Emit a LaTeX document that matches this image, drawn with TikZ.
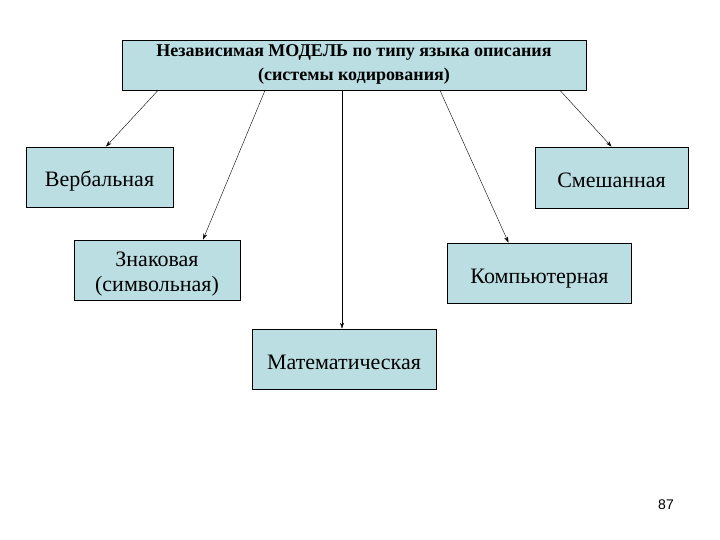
\documentclass[tikz,border=0pt]{standalone}
\usepackage{fontspec}
\setmainfont{Liberation Serif}
\newfontfamily\numfont{Liberation Sans}
\usepackage{tikz}
\usetikzlibrary{positioning, arrows.meta, calc}
\definecolor{boxfill}{HTML}{BBDEE3}

\begin{document}
\begin{tikzpicture}[x=1pt,y=-1pt,
  box/.style={draw=black,thick,fill=boxfill,align=center,
              inner sep=0pt,text height=24pt,text depth=4pt,
              font=\fontsize{22}{26}\selectfont},
  link/.style={->,thin},
  >={Stealth[length=6pt,width=4pt]}]
  \useasboundingbox (0,0) rectangle (720,540);
  \node[box, minimum width=464pt, minimum height=50pt,
        text height=34pt, text depth=2pt,
        font=\fontsize{18}{24}\selectfont\bfseries] (top) at (354,65)
        {Независимая МОДЕЛЬ по типу языка описания\\(системы кодирования)};
  \node[box, minimum width=147pt, minimum height=60pt] (verb) at (99.5,177) {Вербальная};
  \node[box, minimum width=166pt, minimum height=60pt,
        text height=45pt, text depth=2pt,
        font=\fontsize{22}{25}\selectfont] (znak) at (157,270) {Знаковая\\(символьная)};
  \node[box, minimum width=184pt, minimum height=60pt] (mat) at (344,359) {Математическая};
  \node[box, minimum width=184pt, minimum height=60pt] (komp) at (539.5,273) {Компьютерная};
  \node[box, minimum width=153pt, minimum height=61pt] (smesh) at (611.5,177.5) {Смешанная};
  \draw[link] ([xshift=-196pt]top.south) -- ([xshift=6.5pt]verb.north);
  \draw[link] ([xshift=-89pt]top.south) -- ([xshift=46pt]znak.north);
  \draw[link] ([xshift=-12pt]top.south) -- ([xshift=-2pt]mat.north);
  \draw[link] ([xshift=86pt]top.south) -- ([xshift=-31pt]komp.north);
  \draw[link] ([xshift=206pt]top.south) -- ([xshift=0pt]smesh.north);
  \node[font=\numfont\fontsize{14}{16}\selectfont] (page) at (666,505) {87};
\end{tikzpicture}
\end{document}
